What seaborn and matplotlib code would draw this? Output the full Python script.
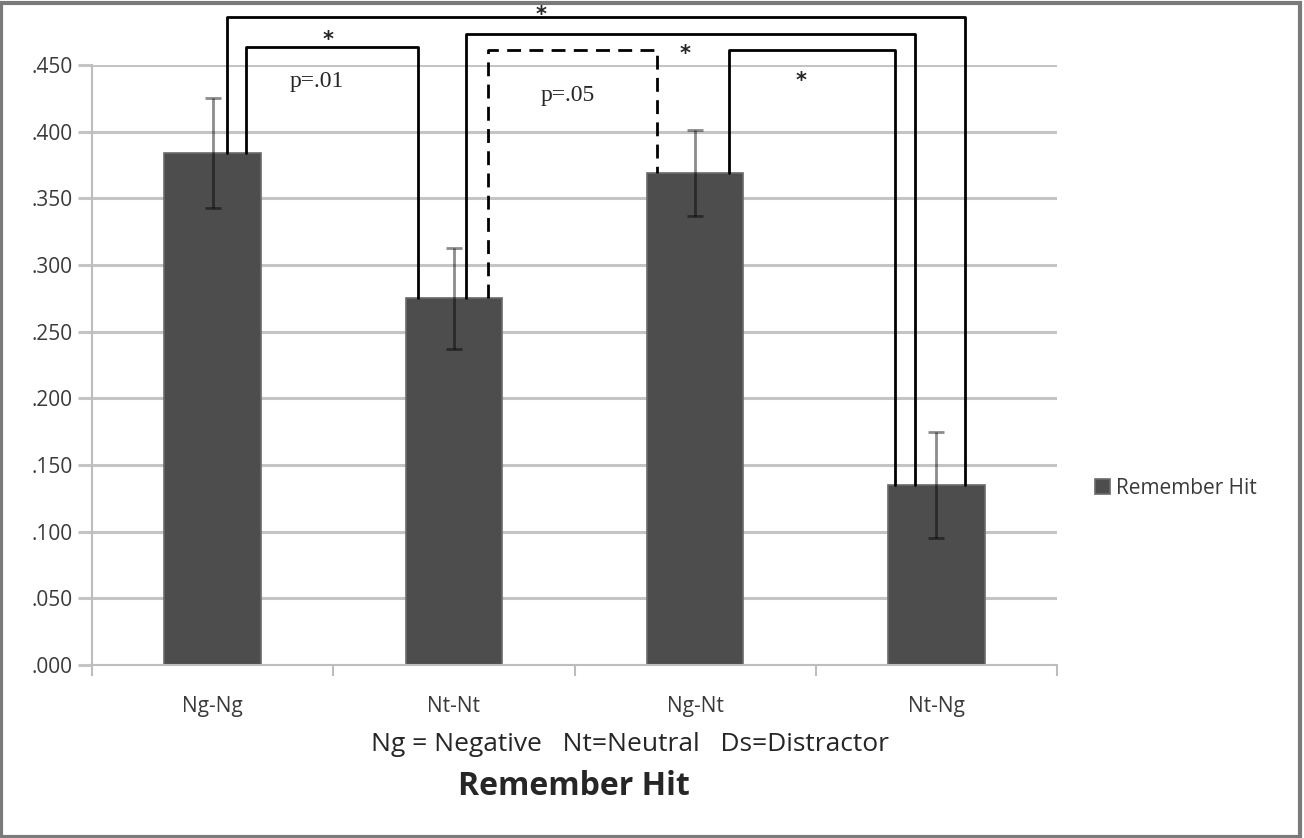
import numpy as np
import matplotlib.pyplot as plt
import seaborn as sns
from matplotlib.patches import Rectangle

# data
conditions = ['Ng-Ng', 'Nt-Nt', 'Ng-Nt', 'Nt-Ng']
remember_hit = [0.384, 0.275, 0.369, 0.135]
errors = [0.041, 0.038, 0.032, 0.040]

# significance brackets: (left x, right x, top y, left foot, right foot, dashed)
brackets = [
    (0.06, 3.12, 0.486, 0, 3, False),
    (0.14, 0.85, 0.4635, 0, 1, False),
    (1.05, 2.91, 0.473, 1, 3, False),
    (1.14, 1.84, 0.461, 1, 2, True),
    (2.14, 2.83, 0.461, 2, 3, False),
]
stars = [(1.36, 0.4875), (0.48, 0.469), (1.96, 0.458), (2.44, 0.438)]
pvals = [(0.43, 0.438, 'p=.01'), (1.47, 0.427, 'p=.05')]

sns.set_style('white')
plt.rcParams['font.family'] = ['Open Sans', 'DejaVu Sans']

fig = plt.figure(figsize=(13.04, 8.38), dpi=100)
ax = fig.add_axes([0.0706, 0.2064, 0.74, 0.716])

sns.barplot(x=conditions, y=remember_hit, color='#4d4d4d', saturation=1,
            width=0.4, ax=ax, edgecolor='#6a6a6a', linewidth=1.2,
            label='Remember Hit', zorder=2)
ax.errorbar(range(len(conditions)), remember_hit, yerr=errors, fmt='none',
            ecolor='black', alpha=0.45, elinewidth=2, capsize=6, capthick=2,
            zorder=3)

ax.set_ylim(0, 0.45)
ax.set_xlim(-0.5, 3.5)
ax.set_yticks(np.arange(0, 0.451, 0.05))
ax.set_yticklabels(['.%03d' % round(v * 1000) for v in np.arange(0, 0.451, 0.05)])
ax.yaxis.grid(True, color='#c4c4c4', linewidth=2.2, zorder=0)
ax.set_axisbelow(True)
for s in ['top', 'right']:
    ax.spines[s].set_visible(False)
for s in ['left', 'bottom']:
    ax.spines[s].set_color('#bdbdbd')
    ax.spines[s].set_linewidth(1.5)
ax.tick_params(axis='y', left=True, length=10, width=2.2, color='#c4c4c4',
               labelsize=15, labelcolor='#3a3a3a', pad=4)
ax.set_xticks([-0.5, 0.5, 1.5, 2.5, 3.5], minor=True)
ax.tick_params(axis='x', which='minor', bottom=True, length=8, width=1.5,
               color='#bdbdbd')
ax.tick_params(axis='x', which='major', length=0, labelsize=15,
               labelcolor='#3a3a3a', pad=22)
ax.set_xlabel('')

for x0, x1, top, f0, f1, dashed in brackets:
    ls = (0, (5, 3)) if dashed else '-'
    ax.plot([x0, x0, x1, x1], [remember_hit[f0], top, top, remember_hit[f1]],
            color='black', linewidth=2, linestyle=ls, clip_on=False, zorder=4)
for x, y in stars:
    ax.text(x, y, '*', ha='center', va='center', fontsize=15,
            family='DejaVu Sans', fontweight='bold', clip_on=False)
for x, y, t in pvals:
    ax.text(x, y, t, ha='center', va='center', fontsize=17,
            family='Liberation Serif', clip_on=False)

ax.legend(loc='center left', bbox_to_anchor=(1.02, 0.295), frameon=False,
          fontsize=15, handlelength=0.7, handleheight=0.7, handletextpad=0.3,
          labelcolor='#3a3a3a')

fig.text(0.483, 0.111, 'Ng = Negative   Nt=Neutral   Ds=Distractor',
         ha='center', va='center', fontsize=19)
fig.text(0.44, 0.062, 'Remember Hit', ha='center', va='center',
         fontsize=23, fontweight='bold')

fig.patches.append(Rectangle((0.001, 0.001), 0.996, 0.995,
                             transform=fig.transFigure, fill=False,
                             edgecolor='#7a7a7a', linewidth=3))

fig.savefig('out.png', dpi=100)
